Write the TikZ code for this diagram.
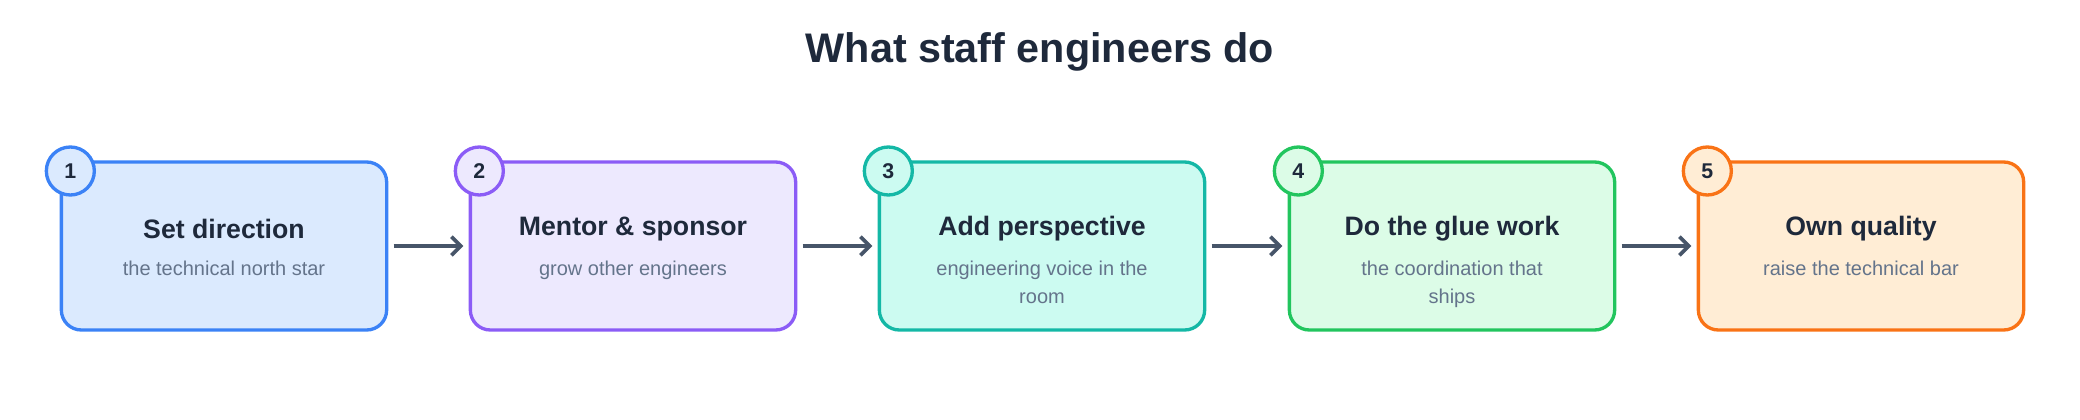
\documentclass[tikz,border=0pt]{standalone}
\usepackage{fontspec}
\setmainfont{Liberation Sans}
\usetikzlibrary{arrows.meta, positioning}
\definecolor{ink}{HTML}{1E293B}
\definecolor{muted}{HTML}{64748B}
\definecolor{arrowc}{HTML}{475569}
\definecolor{c1}{HTML}{3B82F6}\definecolor{f1}{HTML}{DBEAFE}
\definecolor{c2}{HTML}{8B5CF6}\definecolor{f2}{HTML}{EDE9FE}
\definecolor{c3}{HTML}{14B8A6}\definecolor{f3}{HTML}{CCFBF1}
\definecolor{c4}{HTML}{22C55E}\definecolor{f4}{HTML}{DCFCE7}
\definecolor{c5}{HTML}{F97316}\definecolor{f5}{HTML}{FFEDD5}
\begin{document}
\begin{tikzpicture}[x=0.75pt, y=-0.75pt,
    stepbox/.style={draw, line width=2.5pt, rounded corners=15pt, minimum width=244pt, minimum height=126pt},
    badge/.style={circle, draw, line width=2.5pt, minimum size=36pt, inner sep=0pt, font=\bfseries\fontsize{16}{16}\selectfont, text=ink},
    heading/.style={font=\bfseries\fontsize{20}{22}\selectfont, text=ink},
    sub/.style={font=\fontsize{15}{21}\selectfont, text=muted, align=center},
    link/.style={-{Straight Barb[length=7pt, width=14pt]}, line width=2.8pt, draw=arrowc}]
    \useasboundingbox (0,0) rectangle (2080,420);

    % title
    \node[font=\bfseries\fontsize{31}{36}\selectfont, text=ink] (title) at (1040,52) {What staff engineers do};

    % steps
    \foreach \i/\x/\head/\desc in {
        1/224/Set direction/{the technical north star},
        2/633/Mentor \& sponsor/{grow other engineers},
        3/1042/Add perspective/{engineering voice in the\\room},
        4/1452/Do the glue work/{the coordination that\\ships},
        5/1861/Own quality/{raise the technical bar}} {
        \node[stepbox, draw=c\i, fill=f\i] (box\i) at (\x,246) {};
        \node[heading] (head\i) at (\x,229) {\head};
        \node[sub, anchor=north] (sub\i) at (\x,256) {\desc};
        \node[badge, draw=c\i, fill=f\i] (num\i) at ([xshift=8pt, yshift=-8pt]box\i.north west) {\i};
    }

    % connectors
    \foreach \a/\b in {1/2, 2/3, 3/4, 4/5}
        \draw[link] ([xshift=4pt]box\a.east) -- ([xshift=-4pt]box\b.west);
\end{tikzpicture}
\end{document}
